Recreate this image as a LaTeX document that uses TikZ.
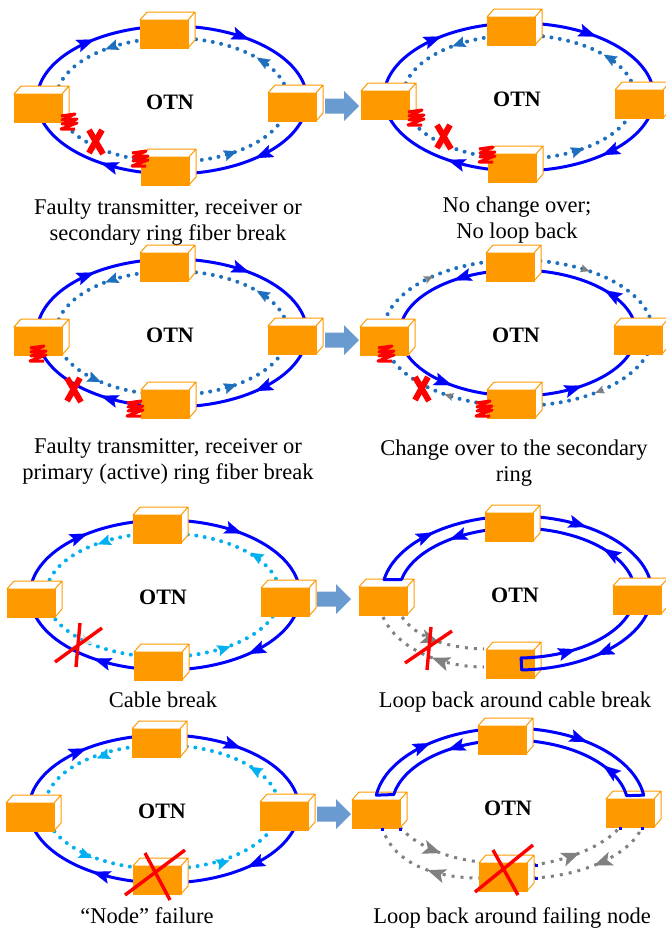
\documentclass[tikz,border=0pt]{standalone}
\usepackage{fontspec}
\setmainfont{Liberation Serif}
\usetikzlibrary{arrows.meta,decorations.markings}

\definecolor{ringblue}{RGB}{0,0,255}
\definecolor{dotblue}{RGB}{30,112,190}
\definecolor{dotcyan}{RGB}{0,176,240}
\definecolor{boxorange}{RGB}{255,153,0}
\definecolor{stepblue}{RGB}{106,155,208}
\definecolor{deadgrey}{RGB}{128,128,128}
\definecolor{fadegrey}{RGB}{226,226,220}

% arrow tip sitting on an ellipse at angle #2 (radii #3, #4)
\newcommand{\cwtip}[4]{\draw[#1] ({#2-2}:#3 and #4) -- (#2:#3 and #4);}
\newcommand{\ccwtip}[4]{\draw[#1] ({#2+2}:#3 and #4) -- (#2:#3 and #4);}
% the four stations of a ring
\newcommand{\otnboxes}{\foreach \bx/\by in {-8/-66,-134/8,120/7,-7/71} {\pic at (\bx,\by) {otnbox};}}

\tikzset{
  ring/.style={draw=ringblue, line width=3pt},
  dotring/.style={draw=#1, line width=4pt, line cap=round, dash pattern=on 0pt off 8.5pt},
  dotring/.default=dotblue,
  soltip/.style={ringblue, line width=.1pt, -{Stealth[length=18pt,width=13pt,inset=3.5pt]}},
  dottip/.style={#1, line width=.1pt, -{Stealth[length=13pt,width=11pt,inset=2pt]}},
  dottip/.default=dotblue,
  greytip/.style={deadgrey, line width=.1pt, -{Stealth[length=9pt,width=8pt,inset=2pt]}},
  deadpath/.style={deadgrey, line width=3pt, dash pattern=on 3pt off 6pt,
    postaction={decorate}, decoration={markings, mark=at position #1 with
      {\arrow{Stealth[length=18pt,width=14pt,inset=4pt]}}}},
  deadback/.style={deadgrey, line width=3pt, dash pattern=on 3pt off 6pt,
    postaction={decorate}, decoration={markings, mark=at position #1 with
      {\arrowreversed{Stealth[length=18pt,width=14pt,inset=4pt]}}}},
  cutx/.style={draw=red, line width=3.4pt},
  otn/.style={font=\fontsize{22}{26}\selectfont\bfseries},
  capt/.style={font=\fontsize{22.5}{26}\selectfont, align=center},
  otnbox/.pic={
    \fill[boxorange] (-24,-14) rectangle (24,14);
    \draw[boxorange, line width=1pt, fill=white, line join=round]
      (-24,-14) -- (-17,-22) -- (31,-22) -- (24,-14) -- cycle
      (24,-14) -- (31,-22) -- (31,6) -- (24,14) -- cycle;
    \draw[boxorange, line width=1pt] (-24,-14) rectangle (24,14);
  },
  fault/.pic={
    \draw[red, line width=3pt, line join=round]
      (-8,-7) -- (6,-9) -- (-7,-3) -- (8,-4) -- (-7,1) -- (8,0) -- (-8,6) -- (6,6);
  },
  breakx/.pic={
    \draw[red, line width=6pt] (-6,-12) -- (8,12) (7,-12) -- (-6,11);
  },
}

\begin{document}
\begin{tikzpicture}[x=1pt, y=-1pt]
\useasboundingbox (0,0) rectangle (665,932);

% row 1, left
\begin{scope}[shift={(172,100)}]
  \draw[ring] (0,0) ellipse [x radius=135pt, y radius=74pt];
  \draw[dotring] (0,0) ellipse [x radius=116pt, y radius=62pt];
  \foreach \t in {235,305,52,122} {\cwtip{soltip}{\t}{135}{74}}
  \foreach \t in {235,317,56} {\ccwtip{dottip}{\t}{116}{62}}
  \ccwtip{dottip=fadegrey}{126}{116}{62}
  \otnboxes
  \pic at (-103,23) {fault};
  \pic at (-32,60) {fault};
  \pic at (-77,42) {breakx};
  \node[otn] (otnA) at (-2,2) {OTN};
\end{scope}

% row 1, right
\begin{scope}[shift={(519,97)}]
  \draw[ring] (0,0) ellipse [x radius=135pt, y radius=74pt];
  \draw[dotring] (0,0) ellipse [x radius=116pt, y radius=62pt];
  \foreach \t in {235,305,52,122} {\cwtip{soltip}{\t}{135}{74}}
  \foreach \t in {235,317,56} {\ccwtip{dottip}{\t}{116}{62}}
  \ccwtip{dottip=fadegrey}{126}{116}{62}
  \otnboxes
  \pic at (-103,22) {fault};
  \pic at (-32,59) {fault};
  \pic at (-76,40) {breakx};
  \node[otn] (otnB) at (-2,2) {OTN};
\end{scope}

% row 2, left
\begin{scope}[shift={(172,333)}]
  \draw[ring] (0,0) ellipse [x radius=135pt, y radius=74pt];
  \draw[dotring] (0,0) ellipse [x radius=116pt, y radius=62pt];
  \foreach \t in {235,305,52,122} {\cwtip{soltip}{\t}{135}{74}}
  \foreach \t in {235,317,56,128} {\ccwtip{dottip}{\t}{116}{62}}
  \otnboxes
  \pic at (-134,22) {fault};
  \pic at (-37,77) {fault};
  \pic at (-99,57) {breakx};
  \node[otn] (otnC) at (-2,2) {OTN};
\end{scope}

% row 2, right
\begin{scope}[shift={(518,333)}]
  \draw[dotring] (0,0) ellipse [x radius=135pt, y radius=73pt];
  \foreach \t in {231,302,55,123} {\cwtip{greytip}{\t}{135}{73}}
  \draw[ring] (0,0) ellipse [x radius=118pt, y radius=63pt];
  \foreach \t in {237,317,57,124} {\ccwtip{soltip}{\t}{118}{63}}
  \otnboxes
  \pic at (-132,22) {fault};
  \pic at (-34,77) {fault};
  \pic at (-97,56) {breakx};
  \node[otn] (otnD) at (-2,2) {OTN};
\end{scope}

% row 3, left
\begin{scope}[shift={(165,595)}]
  \draw[ring] (0,0) ellipse [x radius=135pt, y radius=75pt];
  \draw[dotring=dotcyan] (-2,0) ellipse [x radius=117pt, y radius=62pt];
  \foreach \t in {235,305,52,122} {\cwtip{soltip}{\t}{135}{75}}
  \foreach \t in {235,317,56} {\ccwtip{dottip=dotcyan}{\t}{117}{62}}
  \ccwtip{dottip=fadegrey}{128}{117}{62}
  \otnboxes
  \draw[cutx] (-110,67) -- (-63,33) (-85,28) -- (-89,72);
  \node[otn] (otnE) at (-2,2) {OTN};
\end{scope}

% row 3, right
\begin{scope}[shift={(517,593)}]
  \draw[deadpath=.5] (-115,24) .. controls (-100,45) and (-70,55) .. (-33,56);
  \draw[deadback=.55] (-134,24) .. controls (-120,55) and (-77,74) .. (-33,74);
  \foreach \bx/\by in {-134/8,-7/71} {\pic at (\bx,\by) {otnbox};}
  \draw[ring, line join=round]
    plot[domain=190:448, samples=90] ({135*cos(\x)},{77*sin(\x)})
    -- plot[domain=448:192, samples=90] ({118*cos(\x)},{65*sin(\x)}) -- cycle;
  \foreach \t in {232,301,54} {\cwtip{soltip}{\t}{135}{77}}
  \foreach \t in {235,317,60} {\ccwtip{soltip}{\t}{118}{65}}
  \foreach \bx/\by in {-8/-66,120/7} {\pic at (\bx,\by) {otnbox};}
  \draw[cutx] (-112,70) -- (-65,38) (-86,34) -- (-90,77);
  \node[otn] (otnF) at (-2,2) {OTN};
\end{scope}

% row 4, left
\begin{scope}[shift={(164,809)}]
  \draw[ring] (0,0) ellipse [x radius=135pt, y radius=74pt];
  \draw[dotring=dotcyan] (-2,-2) ellipse [x radius=117pt, y radius=62pt];
  \foreach \t in {235,305,52,122} {\cwtip{soltip}{\t}{135}{74}}
  \foreach \t in {235,317,56,128} {\ccwtip{dottip=dotcyan}{\t}{117}{62}}
  \otnboxes
  \draw[cutx] (-39,86) -- (21,41) (-19,44) -- (6,91);
  \node[otn] (otnG) at (-2,2) {OTN};
\end{scope}

% row 4, right
\begin{scope}[shift={(510,806)}]
  \draw[deadpath=.55] (-110,21) .. controls (-95,39) and (-65,52) .. (-30,56);
  \draw[deadback=.55] (-128,21) .. controls (-118,55) and (-80,72) .. (-30,72);
  \draw[deadpath=.5] (23,59) .. controls (60,54) and (95,39) .. (110,21);
  \draw[deadback=.5] (23,72) .. controls (70,70) and (120,50) .. (132,21);
  \foreach \bx/\by in {-134/8,120/7,-7/71} {\pic at (\bx,\by) {otnbox};}
  \foreach \mx/\my in {-128/23,-110/23,110/22,132/22,26/59,26/72}
    {\fill[ringblue] ({\mx-1.5},{\my-1.5}) rectangle +(3,3);}
  \draw[ring, line join=round]
    plot[domain=188:352, samples=80] ({135*cos(\x)},{78*sin(\x)})
    -- plot[domain=351:190, samples=80] ({118*cos(\x)},{66*sin(\x)}) -- cycle;
  \foreach \t in {234,305} {\cwtip{soltip}{\t}{135}{78}}
  \foreach \t in {238,322} {\ccwtip{soltip}{\t}{118}{66}}
  \pic at (-8,-66) {otnbox};
  \draw[cutx] (-35,86) -- (23,39) (-17,44) -- (8,89);
  \node[otn] (otnH) at (-2,2) {OTN};
\end{scope}

% block arrows between the two columns
\foreach \ax/\ay in {325/106,325/340,317/599,317/814}
  \fill[stepblue] (\ax,{\ay-7.5}) -- ({\ax+19},{\ay-7.5}) -- ({\ax+19},{\ay-15})
    -- ({\ax+34},\ay) -- ({\ax+19},{\ay+15}) -- ({\ax+19},{\ay+7.5})
    -- (\ax,{\ay+7.5}) -- cycle;

% captions
\node[capt] (capA) at (168,221.8) {Faulty transmitter, receiver or\\secondary ring fiber break};
\node[capt] (capB) at (517,220.5) {No change over;\\No loop back};
\node[capt] (capC) at (168,461) {Faulty transmitter, receiver or\\primary (active) ring fiber break};
\node[capt] (capD) at (514,463) {Change over to the secondary\\ring};
\node[capt, anchor=base] (capE) at (163,707.5) {Cable break};
\node[capt, anchor=base] (capF) at (515,707.5) {Loop back around cable break};
\node[capt, anchor=base] (capG) at (147,923) {“Node” failure};
\node[capt, anchor=base] (capH) at (512,923) {Loop back around failing node};
\end{tikzpicture}
\end{document}
